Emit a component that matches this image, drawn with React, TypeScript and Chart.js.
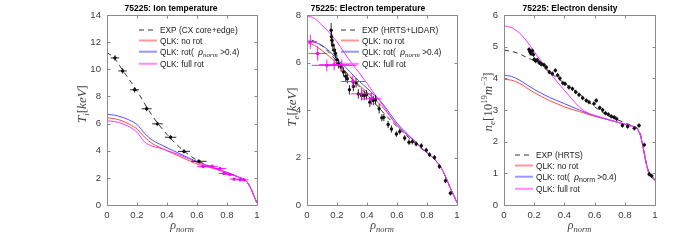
import { useEffect, useRef } from "react";
import { Chart, registerables } from "chart.js";

Chart.register(...registerables);

// ===================== DATA =====================
const rhoTicks = [0, 0.2, 0.4, 0.6, 0.8, 1];
const tiTicks = [0, 2, 4, 6, 8, 10, 12, 14];
const teTicks = [0, 2, 4, 6, 8];
const neTicks = [0, 1, 2, 3, 4, 5, 6];

// ---- Panel 1: ion temperature ----
const tiRho = [0, 0.05, 0.1, 0.15, 0.2, 0.25, 0.3, 0.35, 0.4, 0.5, 0.6, 0.7, 0.8, 0.85, 0.9, 0.93, 0.96, 0.98, 1.0];
const tiNoRot = [6.42, 6.36, 6.2, 5.95, 5.6, 5.0, 4.54, 4.25, 4.0, 3.5, 3.02, 2.72, 2.38, 2.17, 1.95, 1.75, 1.2, 0.65, 0.15];
const tiRot = [6.67, 6.62, 6.47, 6.25, 5.93, 5.28, 4.79, 4.49, 4.22, 3.7, 3.2, 2.8, 2.4, 2.18, 1.95, 1.75, 1.2, 0.65, 0.15];
const tiFullRot = [6.2, 6.15, 6.0, 5.75, 5.36, 4.65, 4.34, 4.2, 4.02, 3.62, 3.13, 2.77, 2.4, 2.18, 1.95, 1.75, 1.2, 0.65, 0.15];
const tiExpRho = [0, 0.05, 0.1, 0.2, 0.3, 0.4, 0.5, 0.6, 0.7, 0.8, 0.85, 0.9, 0.93, 0.96, 0.98, 1.0];
const tiExp = [11.25, 10.8, 10.0, 8.4, 6.6, 5.2, 4.1, 3.3, 2.78, 2.38, 2.17, 1.95, 1.75, 1.2, 0.65, 0.15];
const tiCoreRho = [0.053, 0.104, 0.184, 0.264, 0.336, 0.424, 0.513, 0.613];
const tiCore = [10.84, 9.88, 8.49, 7.09, 5.98, 4.99, 3.95, 3.22];
const tiCoreErrX = [0.028, 0.028, 0.03, 0.033, 0.035, 0.038, 0.04, 0.05];
const tiCoreErrY = [0.2, 0.2, 0.2, 0.18, 0.15, 0.15, 0.15, 0.12];
const tiEdgeRho = [0.642, 0.7, 0.753, 0.78, 0.82, 0.847, 0.887, 0.913];
const tiEdge = [2.84, 2.85, 2.69, 2.32, 2.25, 1.91, 1.86, 1.85];
const tiEdgeErrX = [0.04, 0.04, 0.04, 0.035, 0.03, 0.03, 0.03, 0.03];
const tiEdgeErrY = [0.1, 0.1, 0.1, 0.1, 0.1, 0.1, 0.1, 0.1];

// ---- Panel 2: electron temperature ----
const teRho = [0, 0.05, 0.1, 0.15, 0.2, 0.25, 0.3, 0.35, 0.4, 0.45, 0.5, 0.6, 0.7, 0.8, 0.85, 0.9, 0.93, 0.96, 0.98, 1.0];
const teNoRot = [6.83, 6.72, 6.5, 6.25, 5.95, 5.65, 5.33, 5.03, 4.75, 4.46, 4.15, 3.38, 2.78, 2.2, 1.93, 1.5, 1.1, 0.65, 0.38, 0.1];
const teRot = [6.91, 6.85, 6.72, 6.47, 6.16, 5.85, 5.52, 5.2, 4.92, 4.62, 4.3, 3.45, 2.8, 2.2, 1.93, 1.5, 1.1, 0.65, 0.38, 0.1];
const teFullRot = [7.97, 7.85, 7.57, 7.25, 6.87, 6.4, 5.95, 5.55, 5.12, 4.68, 4.25, 3.35, 2.78, 2.2, 1.93, 1.5, 1.1, 0.65, 0.38, 0.1];
const teExpRho = [0.03, 0.1, 0.2, 0.3, 0.4, 0.5, 0.6, 0.7, 0.8, 0.85, 0.9, 0.93, 0.96, 0.98, 1.0];
const teExp = [6.95, 6.7, 6.05, 5.3, 4.65, 3.95, 3.3, 2.72, 2.18, 1.93, 1.5, 1.1, 0.65, 0.38, 0.1];
const teHrtsRho = [0.161, 0.163, 0.166, 0.172, 0.181, 0.19, 0.199, 0.21, 0.227, 0.243, 0.258, 0.269, 0.283, 0.309, 0.327, 0.342, 0.364, 0.382, 0.397, 0.419, 0.442, 0.457, 0.481, 0.499, 0.512, 0.541, 0.563, 0.596, 0.618, 0.651, 0.68, 0.702, 0.728, 0.762, 0.795, 0.817, 0.85, 0.883, 0.923, 0.956];
const teHrts = [7.36, 7.08, 6.94, 6.73, 6.52, 6.38, 6.12, 5.95, 5.81, 5.6, 5.42, 5.32, 4.85, 4.99, 5.15, 4.68, 4.61, 4.61, 4.64, 4.33, 4.4, 4.43, 4.05, 3.67, 3.69, 3.39, 3.2, 2.99, 3.09, 2.82, 2.64, 2.67, 2.57, 2.5, 2.31, 2.12, 2.0, 1.62, 1.02, 0.5];
const teHrtsErrY = [0.3, 0.3, 0.25, 0.25, 0.25, 0.2, 0.2, 0.2, 0.2, 0.2, 0.2, 0.2, 0.2, 0.2, 0.2, 0.2, 0.2, 0.2, 0.2, 0.2, 0.2, 0.2, 0.2, 0.15, 0.15, 0.15, 0.15, 0.12, 0.12, 0.12, 0.12, 0.12, 0.1, 0.1, 0.1, 0.1, 0.1, 0.1, 0.1, 0.1];
const teLidarRho = [0.022, 0.071, 0.132, 0.181, 0.232, 0.305, 0.364, 0.43];
const teLidar = [6.87, 6.38, 5.88, 5.91, 5.88, 5.2, 4.68, 4.47];
const teLidarErrX = [0.045, 0.06, 0.1, 0.1, 0.1, 0.08, 0.07, 0.066];
const teLidarErrY = [0.3, 0.3, 0.25, 0.25, 0.25, 0.25, 0.25, 0.25];

// ---- Panel 3: electron density ----
const neRho = [0, 0.05, 0.1, 0.15, 0.2, 0.25, 0.3, 0.35, 0.4, 0.45, 0.5, 0.55, 0.6, 0.7, 0.8, 0.85, 0.87, 0.9, 0.92, 0.94, 0.96, 0.98, 1.0];
const neNoRot = [3.97, 3.94, 3.85, 3.7, 3.55, 3.42, 3.3, 3.2, 3.1, 3.02, 2.95, 2.87, 2.8, 2.68, 2.55, 2.49, 2.45, 2.25, 1.85, 1.35, 1.0, 0.87, 0.77];
const neRot = [4.1, 4.06, 3.95, 3.8, 3.65, 3.52, 3.4, 3.3, 3.2, 3.1, 3.0, 2.9, 2.82, 2.68, 2.55, 2.49, 2.45, 2.25, 1.85, 1.35, 1.0, 0.87, 0.77];
const neFullRot = [5.66, 5.6, 5.44, 5.18, 4.84, 4.52, 4.2, 3.9, 3.62, 3.35, 3.09, 2.92, 2.83, 2.69, 2.55, 2.49, 2.45, 2.25, 1.85, 1.35, 1.0, 0.87, 0.77];
const neExp = [4.89, 4.85, 4.78, 4.66, 4.55, 4.38, 4.2, 4.02, 3.85, 3.68, 3.5, 3.3, 3.1, 2.8, 2.6, 2.5, 2.47, 2.3, 1.9, 1.4, 1.05, 0.9, 0.8];
const neHrtsRho = [0.166, 0.172, 0.179, 0.188, 0.195, 0.2, 0.21, 0.22, 0.235, 0.25, 0.265, 0.28, 0.3, 0.32, 0.34, 0.355, 0.37, 0.39, 0.404, 0.43, 0.453, 0.475, 0.497, 0.521, 0.545, 0.563, 0.596, 0.611, 0.634, 0.653, 0.672, 0.691, 0.71, 0.73, 0.746, 0.784, 0.819, 0.863, 0.894, 0.929, 0.962, 0.978];
const neHrts = [4.91, 4.84, 4.78, 4.87, 4.75, 4.6, 4.55, 4.58, 4.5, 4.45, 4.42, 4.35, 4.2, 4.15, 4.25, 4.1, 4.0, 3.85, 3.83, 3.72, 3.67, 3.57, 3.48, 3.38, 3.3, 3.25, 3.2, 3.3, 3.07, 3.0, 2.9, 2.86, 2.8, 2.77, 2.72, 2.51, 2.48, 2.42, 2.51, 1.9, 0.97, 0.92];

// ===================== STYLE =====================
const W = 685;
const H = 249;
const AXIS = "#8a8a8a";
const TICKTXT = "#3a3a3a";
const RED = "#ff4848";
const BLUE = "#5050ff";
const MAG = "#ff30ff";
const BLACK = "#111111";
const FAM = '"Liberation Sans", Arial, sans-serif';
Chart.defaults.font.family = FAM;

const sans = (px: number) => `${px}px ${FAM}`;
const sansB = (px: number) => `bold ${px}px ${FAM}`;
const si = (px: number) => `italic ${px}px "Liberation Serif", serif`;
const sr = (px: number) => `${px}px "Liberation Serif", serif`;

type Seg = { t: string; f: string; dy?: number };
type LegendItem = { dash: boolean; color: string; segs: Seg[] };

const zip = (xs: number[], ys: number[]) => xs.map((x, i) => ({ x, y: ys[i] }));

const line = (xs: number[], ys: number[], color: string, dash: number[] = []) => ({
  data: zip(xs, ys),
  showLine: true,
  borderColor: color,
  borderWidth: 1,
  borderDash: dash,
  pointRadius: 0,
  fill: false,
  cubicInterpolationMode: "monotone",
});

const pts = (xs: number[], ys: number[], color: string, ex: number[] | null, ey: number[] | null, exConst = 0, eyConst = 0) => ({
  data: zip(xs, ys),
  showLine: false,
  pointRadius: 1.7,
  pointBackgroundColor: color,
  pointBorderColor: color,
  pointBorderWidth: 0,
  errX: ex ?? xs.map(() => exConst),
  errY: ey ?? xs.map(() => eyConst),
  errColor: color,
});

const LF = sans(8.3);
const legendFor = (exp: string, subFont: string): LegendItem[] => [
  { dash: true, color: "#333333", segs: [{ t: exp, f: LF }] },
  { dash: false, color: "rgba(255,80,80,0.6)", segs: [{ t: "QLK: no rot", f: LF }] },
  {
    dash: false,
    color: "rgba(80,80,255,0.6)",
    segs: [
      { t: "QLK: rot(  ", f: LF },
      { t: "ρ", f: si(10) },
      { t: "norm", f: subFont, dy: 2.5 },
      { t: " >0.4)", f: LF },
    ],
  },
  { dash: false, color: "rgba(255,60,255,0.6)", segs: [{ t: "QLK: full rot", f: LF }] },
];

type Spec = {
  left: number;
  right: number;
  top: number;
  bottom: number;
  title: string;
  titleDx: number;
  yMax: number;
  yTicks: number[];
  yLabel: Seg[];
  yLabelDx: number;
  yLabelY: number;
  legendDx: number;
  legendY: number;
  legend: LegendItem[];
  datasets: any[];
};

const specs: Spec[] = [
  {
    left: 107,
    right: 257,
    top: 15,
    bottom: 205,
    title: "75225: Ion temperature",
    titleDx: 64,
    yMax: 14,
    yTicks: tiTicks,
    yLabel: [
      { t: "T", f: si(13) },
      { t: "i", f: si(9), dy: 3 },
      { t: "[", f: sr(13) },
      { t: "keV", f: si(13) },
      { t: "]", f: sr(13) },
    ],
    yLabelDx: -21.5,
    yLabelY: 104,
    legendDx: 32,
    legendY: 30,
    legend: legendFor("EXP (CX core+edge)", si(7)),
    datasets: [
      pts(tiCoreRho, tiCore, BLACK, tiCoreErrX, tiCoreErrY),
      pts(tiEdgeRho, tiEdge, "#ff00ff", tiEdgeErrX, tiEdgeErrY),
      line(tiRho, tiFullRot, MAG),
      line(tiRho, tiRot, BLUE),
      line(tiRho, tiNoRot, RED),
      line(tiExpRho, tiExp, "#333333", [5, 4]),
    ],
  },
  {
    left: 307,
    right: 457,
    top: 15,
    bottom: 205,
    title: "75225: Electron temperature",
    titleDx: 61,
    yMax: 8,
    yTicks: teTicks,
    yLabel: [
      { t: "T", f: si(13) },
      { t: "e", f: si(9), dy: 3 },
      { t: "[", f: sr(13) },
      { t: "keV", f: si(13) },
      { t: "]", f: sr(13) },
    ],
    yLabelDx: -11.5,
    yLabelY: 107,
    legendDx: 34,
    legendY: 30,
    legend: legendFor("EXP (HRTS+LIDAR)", si(7)),
    datasets: [
      pts(teHrtsRho, teHrts, BLACK, null, teHrtsErrY, 0.008, 0),
      pts(teLidarRho, teLidar, "#ff00ff", teLidarErrX, teLidarErrY),
      line(teRho, teFullRot, MAG),
      line(teRho, teRot, BLUE),
      line(teRho, teNoRot, RED),
      line(teExpRho, teExp, "#333333", [5, 4]),
    ],
  },
  {
    left: 504,
    right: 655,
    top: 15,
    bottom: 205,
    title: "75225: Electron density",
    titleDx: 66,
    yMax: 6,
    yTicks: neTicks,
    yLabel: [
      { t: "n", f: si(13) },
      { t: "e", f: si(9), dy: 3 },
      { t: "[10", f: sr(13) },
      { t: "19", f: sr(8.5), dy: -5 },
      { t: "m", f: si(13) },
      { t: "−3", f: sr(8.5), dy: -5 },
      { t: "]", f: sr(13) },
    ],
    yLabelDx: -12.5,
    yLabelY: 102,
    legendDx: 11,
    legendY: 155,
    legend: legendFor("EXP (HRTS)", sans(7)),
    datasets: [
      pts(neHrtsRho, neHrts, BLACK, null, null, 0.01, 0.07),
      line(neRho, neFullRot, MAG),
      line(neRho, neRot, BLUE),
      line(neRho, neNoRot, RED),
      line(neRho, neExp, "#333333", [5, 4]),
    ],
  },
];

const LEG_ROWS = [0, 10.5, 21.7, 33.8];
const fmt = (v: number) => String(Math.round(Number(v) * 100) / 100);

function drawRich(ctx: CanvasRenderingContext2D, segs: Seg[], x: number, y: number, center: boolean) {
  let w = 0;
  for (const s of segs) {
    ctx.font = s.f;
    w += ctx.measureText(s.t).width;
  }
  let cx = center ? x - w / 2 : x;
  ctx.textAlign = "left";
  ctx.textBaseline = "alphabetic";
  for (const s of segs) {
    ctx.font = s.f;
    ctx.fillText(s.t, cx, y + (s.dy ?? 0));
    cx += ctx.measureText(s.t).width;
  }
}

function makeDecor(spec: Spec) {
  return {
    id: "decor",
    afterDatasetsDraw(chart: any) {
      const ctx: CanvasRenderingContext2D = chart.ctx;
      const xs = chart.scales.x;
      const ys = chart.scales.y;
      ctx.save();
      chart.data.datasets.forEach((ds: any) => {
        if (!ds.errX) return;
        ctx.strokeStyle = ds.errColor;
        ctx.lineWidth = 0.9;
        ds.data.forEach((p: any, j: number) => {
          const px = xs.getPixelForValue(p.x);
          const py = ys.getPixelForValue(p.y);
          const ex = ds.errX[j] || 0;
          const ey = ds.errY[j] || 0;
          ctx.beginPath();
          if (ex > 0) {
            ctx.moveTo(xs.getPixelForValue(Math.max(0, p.x - ex)), py);
            ctx.lineTo(xs.getPixelForValue(p.x + ex), py);
          }
          if (ey > 0) {
            ctx.moveTo(px, ys.getPixelForValue(p.y - ey));
            ctx.lineTo(px, ys.getPixelForValue(p.y + ey));
          }
          ctx.stroke();
        });
      });
      ctx.restore();
    },
    afterDraw(chart: any) {
      const ctx: CanvasRenderingContext2D = chart.ctx;
      const a = chart.chartArea;
      const xs = chart.scales.x;
      const ys = chart.scales.y;
      const L = Math.round(a.left) + 0.5;
      const R = Math.round(a.right) + 0.5;
      const T = Math.round(a.top) + 0.5;
      const B = Math.round(a.bottom) + 0.5;
      ctx.save();
      ctx.strokeStyle = AXIS;
      ctx.lineWidth = 1;
      ctx.setLineDash([]);
      ctx.strokeRect(L, T, R - L, B - T);
      ctx.beginPath();
      rhoTicks.forEach((v) => {
        const px = Math.round(xs.getPixelForValue(v)) + 0.5;
        ctx.moveTo(px, B);
        ctx.lineTo(px, B - 3);
        ctx.moveTo(px, T);
        ctx.lineTo(px, T + 3);
      });
      spec.yTicks.forEach((v) => {
        const py = Math.round(ys.getPixelForValue(v)) + 0.5;
        ctx.moveTo(L, py);
        ctx.lineTo(L + 3, py);
        ctx.moveTo(R, py);
        ctx.lineTo(R - 3, py);
      });
      ctx.stroke();

      ctx.fillStyle = "#000";
      ctx.font = sansB(8.5);
      ctx.textAlign = "center";
      ctx.textBaseline = "alphabetic";
      ctx.fillText(spec.title, a.left + spec.titleDx, 11);

      ctx.fillStyle = "#404040";
      drawRich(ctx, [{ t: "ρ", f: si(12) }, { t: "norm", f: si(8.5), dy: 2.5 }], (a.left + a.right) / 2, 229, true);

      ctx.save();
      ctx.translate(a.left + spec.yLabelDx, spec.yLabelY);
      ctx.rotate(-Math.PI / 2);
      drawRich(ctx, spec.yLabel, 0, 0, true);
      ctx.restore();

      const sx = a.left + spec.legendDx;
      spec.legend.forEach((it, i) => {
        const y = spec.legendY + LEG_ROWS[i];
        ctx.beginPath();
        ctx.strokeStyle = it.color;
        ctx.lineWidth = it.dash ? 1 : 2;
        ctx.setLineDash(it.dash ? [5, 4] : []);
        ctx.moveTo(sx, y);
        ctx.lineTo(sx + 18, y);
        ctx.stroke();
        ctx.setLineDash([]);
        ctx.fillStyle = "#1a1a1a";
        drawRich(ctx, it.segs, sx + 21, y + 3, false);
      });
      ctx.restore();
    },
  };
}

function Panel({ spec }: { spec: Spec }) {
  const ref = useRef<HTMLCanvasElement | null>(null);
  useEffect(() => {
    const canvas = ref.current;
    if (!canvas) return;
    const chart = new Chart(canvas, {
      type: "scatter",
      data: { datasets: spec.datasets as any },
      options: {
        animation: false,
        responsive: false,
        devicePixelRatio: 1,
        events: [],
        layout: {
          padding: {
            left: spec.left - 40,
            right: W - spec.right,
            top: spec.top,
            bottom: H - spec.bottom - 30,
          },
        },
        plugins: { legend: { display: false }, tooltip: { enabled: false }, title: { display: false } },
        scales: {
          x: {
            type: "linear",
            min: 0,
            max: 1,
            grid: { display: false, drawTicks: false, tickLength: 0 },
            border: { display: false },
            afterBuildTicks: (s: any) => {
              s.ticks = rhoTicks.map((v) => ({ value: v }));
            },
            afterFit: (s: any) => {
              s.height = 30;
            },
            ticks: {
              color: TICKTXT,
              font: { size: 9.6, family: FAM },
              padding: 5,
              maxRotation: 0,
              autoSkip: false,
              callback: (v: any) => fmt(v),
            },
          },
          y: {
            type: "linear",
            min: 0,
            max: spec.yMax,
            grid: { display: false, drawTicks: false, tickLength: 0 },
            border: { display: false },
            afterBuildTicks: (s: any) => {
              s.ticks = spec.yTicks.map((v) => ({ value: v }));
            },
            afterFit: (s: any) => {
              s.width = 40;
            },
            ticks: {
              color: TICKTXT,
              font: { size: 9.6, family: FAM },
              padding: 6,
              autoSkip: false,
              callback: (v: any) => fmt(v),
            },
          },
        },
      } as any,
      plugins: [makeDecor(spec)],
    });
    return () => chart.destroy();
  }, [spec]);
  return (
    <canvas
      ref={ref}
      width={W}
      height={H}
      style={{ position: "absolute", left: 0, top: 0, width: W, height: H }}
    />
  );
}

export default function App() {
  return (
    <div style={{ position: "fixed", left: 0, top: 0, width: W, height: H, background: "#fff", overflow: "hidden" }}>
      {specs.map((s, i) => (
        <Panel key={i} spec={s} />
      ))}
    </div>
  );
}
